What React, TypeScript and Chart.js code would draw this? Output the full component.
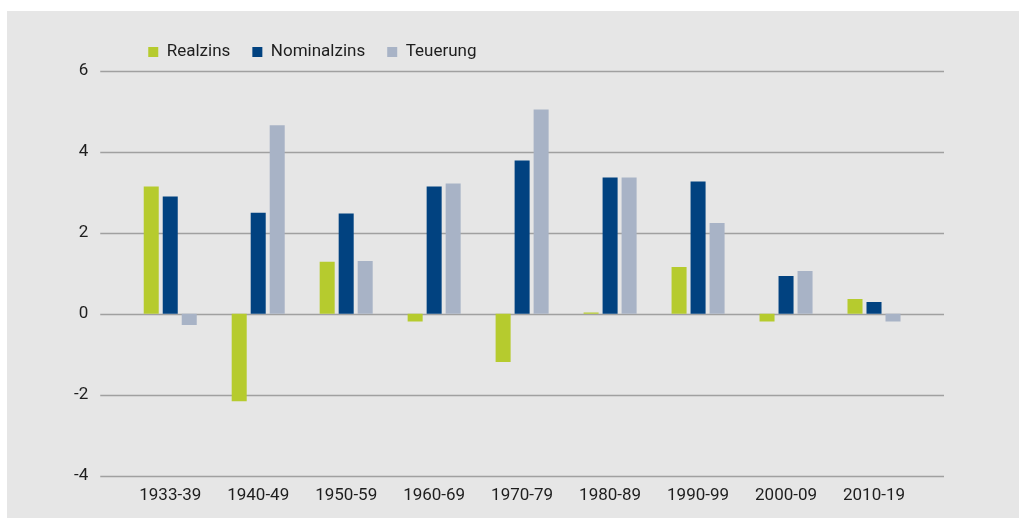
import React, { useEffect, useRef } from "react";
import { Chart, registerables } from "chart.js";

Chart.register(...registerables);

const categories = ["1933-39", "1940-49", "1950-59", "1960-69", "1970-79", "1980-89", "1990-99", "2000-09", "2010-19"];
const realzins = [3.14, -2.16, 1.28, -0.19, -1.19, 0.03, 1.15, -0.19, 0.36];
const nominalzins = [2.89, 2.49, 2.47, 3.14, 3.78, 3.36, 3.26, 0.93, 0.29];
const teuerung = [-0.28, 4.65, 1.3, 3.21, 5.04, 3.36, 2.24, 1.05, -0.19];
const seriesNames = ["Realzins", "Nominalzins", "Teuerung"];
const seriesColors = ["#b6cb2e", "#014280", "#a8b3c6"];
const yMin = -4;
const yMax = 6;
const yStep = 2;

const FONT = "Roboto, 'Liberation Sans', Arial, sans-serif";

const extendedGrid = {
  id: "extendedGrid",
  beforeDatasetsDraw(chart: any) {
    const { ctx, chartArea, scales } = chart;
    const y = scales.y;
    ctx.save();
    ctx.strokeStyle = "#a0a0a0";
    ctx.lineWidth = 1.4;
    y.ticks.forEach((t: any) => {
      const py = Math.round(y.getPixelForValue(t.value)) + 0.5;
      ctx.beginPath();
      ctx.moveTo(chartArea.left - 26, py);
      ctx.lineTo(chartArea.right + 26, py);
      ctx.stroke();
    });
    ctx.restore();
  },
};

export default function App() {
  const ref = useRef<HTMLCanvasElement | null>(null);
  useEffect(() => {
    if (!ref.current) return;
    Chart.defaults.font.family = FONT;
    const data = [realzins, nominalzins, teuerung];
    const chart = new Chart(ref.current, {
      type: "bar",
      data: {
        labels: categories,
        datasets: seriesNames.map((name, i) => ({
          label: name,
          data: data[i],
          backgroundColor: seriesColors[i],
          borderWidth: 0,
          categoryPercentage: 0.648,
          barPercentage: 0.79,
        })),
      },
      options: {
        animation: false,
        responsive: false,
        maintainAspectRatio: false,
        layout: { padding: { top: 10.5, left: 29, right: 101, bottom: 0 } },
        plugins: {
          legend: {
            position: "top",
            align: "start",
            fullSize: false,
            labels: {
              boxWidth: 10,
              boxHeight: 10,
              padding: 22,
              color: "#1e1e1e",
              font: { size: 17, family: FONT },
            },
          },
          tooltip: { enabled: false },
        },
        scales: {
          x: {
            grid: { display: false, drawTicks: false },
            border: { display: false },
            ticks: { color: "#1e1e1e", padding: 9.8, font: { size: 17, family: FONT } },
          },
          y: {
            min: yMin,
            max: yMax,
            grid: { display: false, drawTicks: false },
            border: { display: false },
            ticks: { stepSize: yStep, color: "#1e1e1e", padding: 38, font: { size: 17, family: FONT } },
          },
        },
      },
      plugins: [extendedGrid],
    });
    return () => chart.destroy();
  }, []);
  return (
    <div style={{ position: "fixed", left: 7, top: 11, width: 1012, height: 507, background: "#e6e6e6", overflow: "hidden" }}>
      <canvas ref={ref} width={1012} height={513} style={{ width: 1012, height: 513, display: "block" }} />
    </div>
  );
}
